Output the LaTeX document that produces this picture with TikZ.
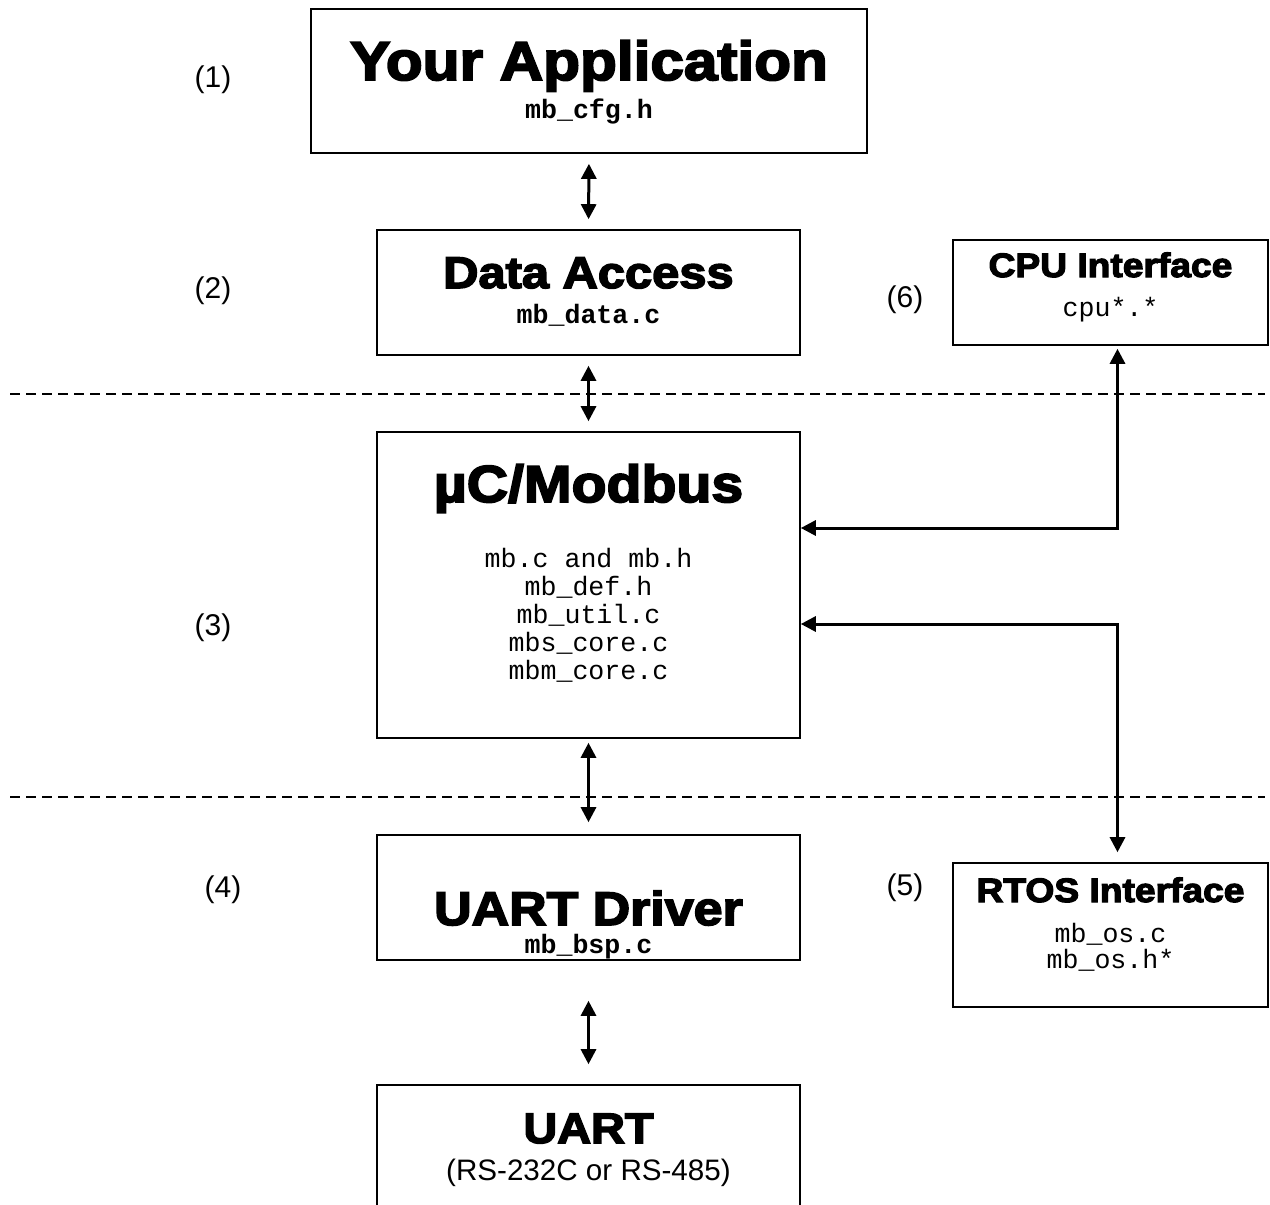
\documentclass[tikz,border=0pt]{standalone}
\usepackage{fontspec}
\setmainfont{Liberation Sans}
\setmonofont{Liberation Mono}
\newfontfamily\heavyfont{Liberation Sans}[UprightFont=* Bold, FakeBold=3.5, FakeStretch=1.1]
\definecolor{ink}{RGB}{0, 0, 0}
\usetikzlibrary{arrows.meta,positioning,calc}
\newcommand{\heading}[2]{{\fontsize{#1}{#1}\selectfont\heavyfont #2}}

\begin{document}
\begin{tikzpicture}[x=0.5pt, y=-0.5pt,
    layer/.style={draw=ink, line width=0.8pt, inner sep=0pt},
    head/.style={anchor=base, inner sep=0pt},
    srcfile/.style={anchor=base, inner sep=0pt, font=\fontsize{13.3}{14}\selectfont\ttfamily},
    tag/.style={inner sep=0pt, font=\fontsize{15}{18}\selectfont},
    biarrow/.style={{Triangle[width=7.5pt,length=7.5pt]}-{Triangle[width=7.5pt,length=7.5pt]}, line width=1.5pt},
    sepline/.style={dash pattern=on 5pt off 3pt, line width=0.75pt}]
    \useasboundingbox (0,0) rectangle (1270,1205);

    % layer boxes
    \node[layer, minimum width=278pt, minimum height=72pt] (app) at (589,81) {};
    \node[layer, minimum width=211.5pt, minimum height=62.5pt] (data) at (588.5,292.5) {};
    \node[layer, minimum width=157.5pt, minimum height=52.5pt] (cpu) at (1110.5,292.5) {};
    \node[layer, minimum width=211.5pt, minimum height=153pt] (modbus) at (588.5,585) {};
    \node[layer, minimum width=211.5pt, minimum height=62.5pt] (drv) at (588.5,897.5) {};
    \node[layer, minimum width=157.5pt, minimum height=72pt] (rtos) at (1110.5,935) {};
    \node[layer, minimum width=211.5pt, minimum height=70pt] (uart) at (588.5,1155) {};

    % box texts
    \node[head] (apptitle) at (589,80) {\heading{27.4}{Your Application}};
    \node[srcfile, font=\fontsize{13.3}{14}\selectfont\ttfamily\bfseries] (appfile) at (589,118) {mb\_cfg.h};
    \node[head] (datatitle) at (588.5,288) {\heading{22.2}{Data Access}};
    \node[srcfile, font=\fontsize{13.3}{14}\selectfont\ttfamily\bfseries] (datafile) at (588.5,323) {mb\_data.c};
    \node[head] (cputitle) at (1110.5,277) {\heading{16.9}{CPU Interface}};
    \node[srcfile] (cpufile) at (1110.5,316) {cpu*.*};
    \node[head] (modbustitle) at (588.5,502) {\heading{26}{µC/Modbus}};
    \foreach \f [count=\i] in {mb.c and mb.h, mb\_def.h, mb\_util.c, mbs\_core.c, mbm\_core.c}
        \node[srcfile] (modfile\i) at (588.5,539+28*\i) {\f};
    \node[head] (drvtitle) at (588.5,925) {\heading{23.6}{UART Driver}};
    \node[srcfile, font=\fontsize{13.3}{14}\selectfont\ttfamily\bfseries] (drvfile) at (588.5,953) {mb\_bsp.c};
    \node[head] (rtostitle) at (1110.5,902) {\heading{16.9}{RTOS Interface}};
    \node[srcfile] (rtosfile1) at (1110.5,942) {mb\_os.c};
    \node[srcfile] (rtosfile2) at (1110.5,968) {mb\_os.h*};
    \node[head] (uarttitle) at (588.5,1143) {\heading{21.3}{UART}};
    \node[head, font=\fontsize{14.8}{16}\selectfont] (uartsub) at (588.5,1180) {(RS-232C or RS-485)};

    % layer numbers
    \node[tag] (tag1) at (213,80) {(1)};
    \node[tag] (tag2) at (213,291) {(2)};
    \node[tag] (tag3) at (213,628) {(3)};
    \node[tag] (tag4) at (223,890) {(4)};
    \node[tag] (tag5) at (905,888) {(5)};
    \node[tag] (tag6) at (905,300) {(6)};

    % dashed separators
    \draw[sepline] (10,394) -- (1265,394);
    \draw[sepline] (10,797) -- (1265,797);

    % connectors
    \draw[biarrow, shorten <=5pt, shorten >=5pt] (app.south) -- (data.north);
    \draw[biarrow, shorten <=5pt, shorten >=5pt] (data.south) -- (modbus.north);
    \draw[biarrow, shorten <=2pt, shorten >=6pt] (modbus.south) -- (drv.north);
    \draw[biarrow, shorten <=20pt, shorten >=10pt] (drv.south) -- (uart.north);
    \draw[biarrow, shorten <=1.5pt] ([xshift=3.5pt]cpu.south) |- ([yshift=28.5pt]modbus.east);
    \draw[biarrow, shorten >=5pt] ([yshift=-19.5pt]modbus.east) -| ([xshift=3.5pt]rtos.north);
\end{tikzpicture}
\end{document}
